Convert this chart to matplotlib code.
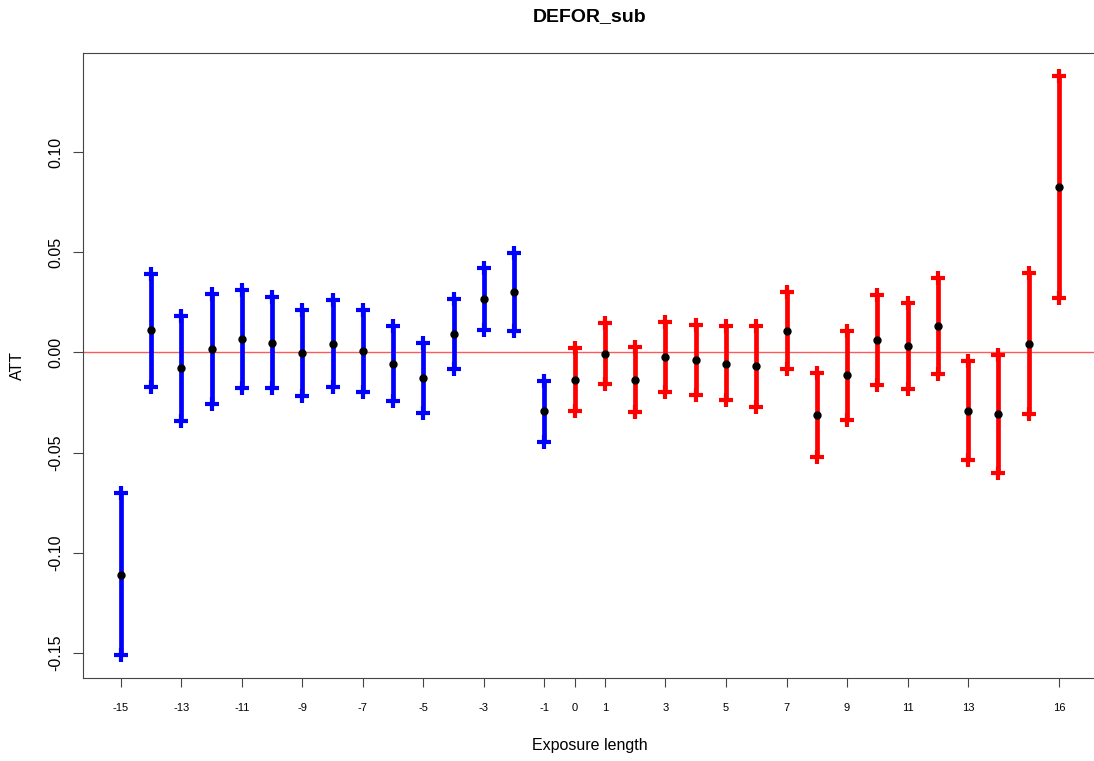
import numpy as np
import matplotlib
matplotlib.use("Agg")
import matplotlib.pyplot as plt

plt.rcParams["font.family"] = ["Liberation Sans", "DejaVu Sans"]

# Exposure length and estimates
exposure = [-15, -14, -13, -12, -11, -10, -9, -8, -7, -6, -5, -4, -3, -2, -1,
            0, 1, 2, 3, 4, 5, 6, 7, 8, 9, 10, 11, 12, 13, 14, 15, 16]
att = [-0.111, 0.011, -0.008, 0.0015, 0.0067, 0.0048, -0.0003, 0.0042, 0.0005,
       -0.006, -0.0128, 0.0092, 0.0268, 0.0302, -0.0295,
       -0.0137, -0.0008, -0.0137, -0.0025, -0.0037, -0.0057, -0.007, 0.0108,
       -0.0312, -0.0115, 0.006, 0.0032, 0.013, -0.0293, -0.0307, 0.0043, 0.0827]
lower = [-0.1513, -0.0173, -0.0343, -0.026, -0.018, -0.018, -0.022, -0.0173, -0.020,
         -0.0245, -0.0303, -0.0085, 0.011, 0.0107, -0.0448,
         -0.0293, -0.016, -0.0298, -0.0198, -0.0215, -0.024, -0.0273, -0.0082,
         -0.052, -0.0335, -0.0163, -0.0185, -0.011, -0.0537, -0.060, -0.0307, 0.0273]
upper = [-0.0703, 0.039, 0.0182, 0.029, 0.0313, 0.0277, 0.0213, 0.026, 0.021,
         0.013, 0.0047, 0.0268, 0.0423, 0.0498, -0.0143,
         0.0023, 0.0147, 0.0027, 0.015, 0.0138, 0.013, 0.013, 0.0302,
         -0.0102, 0.0105, 0.0285, 0.0247, 0.037, -0.0045, -0.0012, 0.0397, 0.1383]

xTicks = [-15, -13, -11, -9, -7, -5, -3, -1, 0, 1, 3, 5, 7, 9, 11, 13, 16]
yTicks = [-0.15, -0.10, -0.05, 0.00, 0.05, 0.10]

x = np.array(exposure)
att = np.array(att)
lower = np.array(lower)
upper = np.array(upper)

fig = plt.figure(figsize=(10.94, 7.61), dpi=100)
ax = fig.add_axes([0.0761, 0.1095, 0.9261, 0.8205])

ax.axhline(0, color="#ff5a5a", linewidth=1, zorder=1)

# pre-treatment in blue, post-treatment in red
for mask, colour in [(x < 0, "#0000ff"), (x >= 0, "#ff0000")]:
    ax.vlines(x[mask], lower[mask], upper[mask], color=colour, linewidth=3.4, zorder=2)
    ax.plot(x[mask], lower[mask], linestyle="none", marker="+", markersize=10.5,
            markeredgewidth=3, color=colour, zorder=2)
    ax.plot(x[mask], upper[mask], linestyle="none", marker="+", markersize=10.5,
            markeredgewidth=3, color=colour, zorder=2)

ax.plot(x, att, linestyle="none", marker="o", markersize=5, color="black", zorder=3)

ax.set_xlim(-16.24, 17.24)
ax.set_ylim(-0.1625, 0.1495)

ax.set_xticks(xTicks)
ax.set_xticklabels([str(t) for t in xTicks], fontsize=8)
ax.set_yticks(yTicks)
ax.set_yticklabels([f"{t:.2f}" for t in yTicks], fontsize=11.5, rotation=90, va="center")

ax.tick_params(axis="x", length=6.5, width=0.8, color="#444444", pad=12)
ax.tick_params(axis="y", length=7.2, width=0.8, color="#444444", pad=7)

for spine in ax.spines.values():
    spine.set_color("#444444")
    spine.set_linewidth(0.8)

ax.set_title("DEFOR_sub", fontsize=14, fontweight="bold", y=1.059, va="center", pad=0)
ax.set_xlabel("Exposure length", fontsize=11.5)
ax.xaxis.set_label_coords(0.5, -0.1094)
ax.xaxis.label.set_verticalalignment("center")
ax.set_ylabel("ATT", fontsize=11.5)
ax.yaxis.set_label_coords(-0.0654, 0.5)
ax.yaxis.label.set_verticalalignment("center")

fig.savefig("out.png", dpi=100)
